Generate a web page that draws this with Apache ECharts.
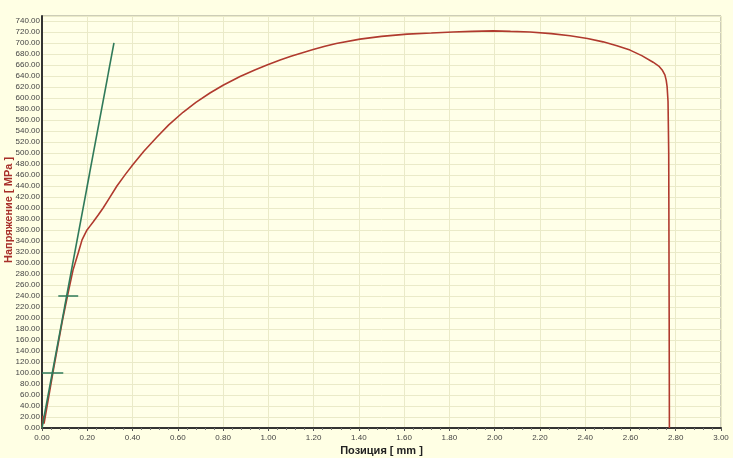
<!DOCTYPE html>
<html>
<head>
<meta charset="utf-8">
<script src="https://cdn.jsdelivr.net/npm/echarts@6/dist/echarts.min.js"></script>
<style>
  html, body { margin: 0; padding: 0; background: #FFFFE4; }
  #chart { width: 733px; height: 458px; }
</style>
</head>
<body>
<div id="chart"></div>
<script>
// кривая напряжение / позиция
var posX = [0, 0.004, 0.009, 0.05, 0.09, 0.115, 0.137, 0.16, 0.177, 0.19, 0.199, 0.212, 0.225, 0.25, 0.27, 0.29,
    0.331, 0.37, 0.402, 0.45, 0.508, 0.56, 0.623, 0.68, 0.742, 0.8, 0.875, 0.94, 0.994, 1.052, 1.1, 1.14, 1.198, 1.25, 1.3,
    1.405, 1.5, 1.613, 1.72, 1.816, 1.9, 1.993, 2.07, 2.156, 2.25, 2.333, 2.41, 2.479, 2.54, 2.598, 2.65,
    2.70, 2.725, 2.74, 2.752, 2.758, 2.762, 2.766, 2.769, 2.771, 2.772];
var stress = [0, 22, 8, 105, 195, 245, 287, 318, 342, 353, 360, 367, 374, 388, 400, 413,
    440, 462, 479, 503, 529, 551, 574, 592, 609, 623, 639, 651, 660, 669, 676, 681, 688, 694, 699,
    707, 712, 716, 718, 720, 721, 722, 721, 720, 717, 713, 708, 702, 695, 687, 677,
    665, 658, 651, 642, 632, 620, 593, 500, 200, 0];
// модуль (прямая)
var modX = [0, 0.318];
var modY = [0, 700];
// отметки
var mark100X = [0, 0.094];
var mark100Y = [100, 100];
var mark240X = [0.072, 0.16];
var mark240Y = [240, 240];

function pairs(xs, ys) {
    var out = [];
    for (var i = 0; i < xs.length; i++) out.push([xs[i], ys[i]]);
    return out;
}

var chart = echarts.init(document.getElementById('chart'));
var green = '#2F7A5A';
var option = {
    backgroundColor: '#FFFFE4',
    animation: false,
    textStyle: { fontFamily: 'Liberation Sans, Arial, sans-serif' },
    grid: {
        left: 42, right: 12, top: 16, bottom: 30,
        containLabel: false, outerBoundsMode: 'none',
        show: true, backgroundColor: '#FFFFE8', borderColor: '#9A9A8A', borderWidth: 1
    },
    xAxis: {
        type: 'value',
        min: 0, max: 3, interval: 0.2,
        name: 'Позиция [ mm ]',
        nameLocation: 'middle',
        nameGap: 17,
        nameMoveOverlap: false,
        nameTextStyle: { color: '#222', fontSize: 11, fontWeight: 'bold' },
        axisLine: { onZero: false, lineStyle: { color: '#333', width: 2 } },
        axisTick: { show: true, length: 3, lineStyle: { color: '#555' } },
        minorTick: { show: true, splitNumber: 5, length: 2, lineStyle: { color: '#777' } },
        axisLabel: {
            color: '#444', fontSize: 8, margin: 6,
            formatter: function (v) { return v.toFixed(2); }
        },
        splitLine: { show: true, lineStyle: { color: '#EAEAC8', width: 1 } }
    },
    yAxis: {
        type: 'value',
        min: 0, max: 749, interval: 20,
        name: 'Напряжение [ MPa ]',
        nameLocation: 'middle',
        nameGap: 28,
        nameMoveOverlap: false,
        nameTextStyle: { color: '#A8302A', fontSize: 11, fontWeight: 'bold', padding: [0, 0, 0, 24] },
        axisLine: { lineStyle: { color: '#333', width: 2 } },
        axisTick: { show: false },
        axisLabel: {
            color: '#444', fontSize: 8, margin: 2, showMaxLabel: false,
            formatter: function (v) { return v.toFixed(2); }
        },
        splitLine: { show: true, lineStyle: { color: '#EAEAC8', width: 1 } }
    },
    series: [{
        name: 'stress',
        type: 'line',
        showSymbol: false,
        lineStyle: { color: '#B03A2E', width: 1.6 },
        data: pairs(posX, stress)
    }, {
        name: 'modulus',
        type: 'line',
        showSymbol: false,
        lineStyle: { color: green, width: 1.6 },
        data: pairs(modX, modY)
    }, {
        name: 'm100',
        type: 'line',
        showSymbol: false,
        lineStyle: { color: green, width: 1.6 },
        data: pairs(mark100X, mark100Y)
    }, {
        name: 'm240',
        type: 'line',
        showSymbol: false,
        lineStyle: { color: green, width: 1.6 },
        data: pairs(mark240X, mark240Y)
    }]
};
chart.setOption(option);
window.onresize = function () { chart.resize(); };
</script>
</body>
</html>
